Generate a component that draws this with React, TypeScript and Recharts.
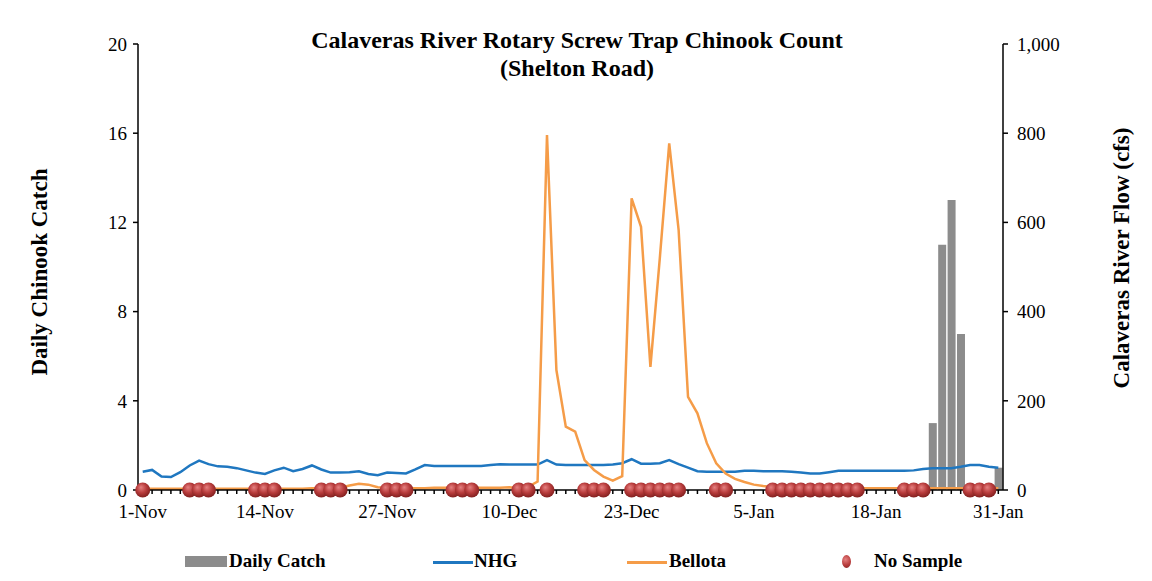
import React from 'react';
import { ComposedChart, Bar, Line, XAxis, YAxis } from 'recharts';

// x axis: one category per day, 1-Nov .. 31-Jan (92 days), labelled every 13 days
const tickLabels = ['1-Nov', '14-Nov', '27-Nov', '10-Dec', '23-Dec', '5-Jan', '18-Jan', '31-Jan'];

// river flow, cfs (right axis)
const nhgFlow = [
  41, 45, 30, 29, 40, 55, 66, 58, 53, 52,
  49, 44, 39, 36, 44, 50, 42, 47, 55, 46,
  39, 39, 40, 42, 36, 33, 39, 38, 37, 46,
  56, 54, 54, 54, 54, 54, 54, 56, 58, 57,
  57, 57, 57, 67, 57, 56, 56, 56, 56, 56,
  57, 60, 69, 59, 59, 60, 67, 58, 50, 42,
  41, 41, 41, 41, 43, 43, 42, 42, 42, 41,
  39, 37, 37, 40, 43, 43, 43, 43, 43, 43,
  43, 43, 44, 47, 49, 49, 49, 52, 56, 56,
  52, 50,
];

const bellotaFlow = [
  3, 3, 3, 3, 3, 3, 3, 3, 3, 3,
  3, 3, 3, 3, 3, 3, 3, 3, 4, 4,
  4, 5, 10, 14, 12, 6, 5, 4, 4, 4,
  4, 5, 5, 5, 5, 5, 5, 5, 5, 6,
  4, 7, 19, 796, 269, 142, 131, 67, 45, 30,
  21, 31, 654, 590, 276, 520, 777, 583, 209, 172,
  105, 60, 37, 25, 18, 12, 9, 7, 6, 5,
  5, 5, 4, 4, 4, 4, 4, 4, 4, 4,
  4, 4, 4, 4, 4, 4, 4, 4, 4, 4,
  4, 4,
];

// daily chinook catch (left axis)
const catchDays = [84, 85, 86, 87, 91];
const catchCounts = [3, 11, 13, 7, 1];

const noSampleDays = [
  0, 5, 6, 7, 12, 13, 14, 19, 20, 21, 26, 27, 28, 33, 34, 35, 40, 41, 43,
  47, 48, 49, 52, 53, 54, 55, 56, 57, 61, 62,
  67, 68, 69, 70, 71, 72, 73, 74, 75, 76, 81, 82, 83, 88, 89, 90,
];

const data = nhgFlow.map((nhg, day) => {
  const ci = catchDays.indexOf(day);
  return {
    day,
    nhg,
    bellota: bellotaFlow[day],
    dailyCatch: ci >= 0 ? catchCounts[ci] : null,
    noSample: noSampleDays.includes(day) ? 0 : null,
  };
});

const FONT = '"Liberation Serif", "Times New Roman", serif';
const BLUE = '#1f77c0';
const ORANGE = '#f59c48';
const GREY = '#8c8c8c';

const DayTick = (props: any) => {
  const { x, y, payload } = props;
  const d = payload.value;
  if (d % 13 !== 0) return <g />;
  return (
    <text x={x} y={y} dy={20} textAnchor="middle" fontFamily={FONT} fontSize={19} fill="#000">
      {tickLabels[d / 13]}
    </text>
  );
};

const Ball = (props: any) => {
  const { cx, cy, value, index } = props;
  if (value == null || cy == null) return <g key={`ns-${index}`} />;
  return <circle key={`ns-${index}`} cx={cx} cy={cy} r={7.5} fill="url(#ballGrad)" />;
};

const legendText: React.CSSProperties = {
  position: 'absolute',
  top: 550,
  fontFamily: FONT,
  fontWeight: 'bold',
  fontSize: 19,
  whiteSpace: 'nowrap',
};

export default function App() {
  return (
    <div style={{ position: 'absolute', left: 0, top: 0, width: 1152, height: 581, background: '#fff' }}>
      <svg width={0} height={0} style={{ position: 'absolute' }}>
        <defs>
          <radialGradient id="ballGrad" cx="45%" cy="40%" r="60%" fx="38%" fy="32%">
            <stop offset="0%" stopColor="#e58080" />
            <stop offset="55%" stopColor="#b83c3c" />
            <stop offset="100%" stopColor="#82201f" />
          </radialGradient>
        </defs>
      </svg>

      <ComposedChart
        width={1152}
        height={581}
        data={data}
        margin={{ top: 44, right: 79, bottom: 61, left: 78 }}
        barCategoryGap={1}
      >
        <XAxis
          dataKey="day"
          interval={0}
          height={30}
          tick={<DayTick />}
          tickSize={4}
          tickMargin={4}
          stroke="#000"
          strokeWidth={1.5}
        />
        <YAxis
          yAxisId="left"
          width={60}
          domain={[0, 20]}
          ticks={[0, 4, 8, 12, 16, 20]}
          tickSize={5}
          tickMargin={6}
          stroke="#000"
          strokeWidth={1.5}
          tick={{ fill: '#000', fontFamily: FONT, fontSize: 19 }}
        />
        <YAxis
          yAxisId="right"
          orientation="right"
          width={70}
          domain={[0, 1000]}
          ticks={[0, 200, 400, 600, 800, 1000]}
          tickFormatter={(v: number) => v.toLocaleString('en-US')}
          tickSize={5}
          tickMargin={9}
          stroke="#000"
          strokeWidth={1.5}
          tick={{ fill: '#000', fontFamily: FONT, fontSize: 19 }}
        />
        <Bar yAxisId="left" dataKey="dailyCatch" fill={GREY} barSize={8} isAnimationActive={false} />
        <Line yAxisId="right" type="linear" dataKey="nhg" stroke={BLUE} strokeWidth={2.5} dot={false} isAnimationActive={false} />
        <Line yAxisId="right" type="linear" dataKey="bellota" stroke={ORANGE} strokeWidth={2.5} dot={false} isAnimationActive={false} />
        <Line yAxisId="left" type="linear" dataKey="noSample" stroke="none" dot={<Ball />} activeDot={false} isAnimationActive={false} />
      </ComposedChart>

      <div
        style={{
          position: 'absolute',
          left: 577,
          top: 26,
          transform: 'translateX(-50%)',
          textAlign: 'center',
          fontFamily: FONT,
          fontWeight: 'bold',
          fontSize: 24,
          lineHeight: '28px',
          whiteSpace: 'nowrap',
        }}
      >
        Calaveras River Rotary Screw Trap Chinook Count
        <br />
        (Shelton Road)
      </div>

      <div
        style={{
          position: 'absolute',
          left: 40,
          top: 272,
          transform: 'translate(-50%, -50%) rotate(-90deg)',
          fontFamily: FONT,
          fontWeight: 'bold',
          fontSize: 23,
          whiteSpace: 'nowrap',
        }}
      >
        Daily Chinook Catch
      </div>
      <div
        style={{
          position: 'absolute',
          left: 1122,
          top: 258,
          transform: 'translate(-50%, -50%) rotate(-90deg)',
          fontFamily: FONT,
          fontWeight: 'bold',
          fontSize: 23,
          whiteSpace: 'nowrap',
        }}
      >
        Calaveras River Flow (cfs)
      </div>

      {/* legend */}
      <div style={{ position: 'absolute', left: 185, top: 556, width: 42, height: 11, background: GREY }} />
      <div style={{ ...legendText, left: 229 }}>Daily Catch</div>
      <div style={{ position: 'absolute', left: 433, top: 561, width: 40, height: 3, background: BLUE }} />
      <div style={{ ...legendText, left: 474 }}>NHG</div>
      <div style={{ position: 'absolute', left: 627, top: 561, width: 40, height: 3, background: ORANGE }} />
      <div style={{ ...legendText, left: 669 }}>Bellota</div>
      <div
        style={{
          position: 'absolute',
          left: 842,
          top: 555,
          width: 9,
          height: 13,
          borderRadius: '50%',
          background: 'radial-gradient(circle at 40% 35%, #e58080, #b83c3c 55%, #82201f)',
        }}
      />
      <div style={{ ...legendText, left: 874 }}>No Sample</div>
    </div>
  );
}
